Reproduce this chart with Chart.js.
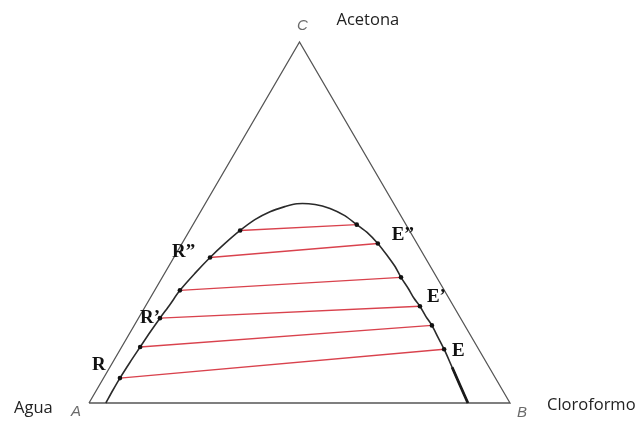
<!DOCTYPE html>
<html>
<head>
<meta charset="utf-8">
<script src="https://cdn.jsdelivr.net/npm/chart.js@4"></script>
<style>
  body { margin: 0; background: #fff; }
  canvas { display: block; }
</style>
</head>
<body>
<canvas id="ternario" width="640" height="421"></canvas>
<script>
// Curva binodal (% en masa): acetona y cloroformo, el resto es agua
const binodalAcetona = [0, 3.6, 6.9, 11.3, 15.5, 19.6, 23.5, 27.3, 31.2, 35.9, 40.3, 44.2, 47.8, 50.8, 53.0, 54.4, 55.2,
  55.0, 53.9, 51.9, 49.4, 47.0, 44.2, 40.6, 37.8, 34.8, 31.8, 29.0, 26.8, 24.0, 21.5, 18.2, 14.9, 9.9, 5.0, 0];
const binodalCloroformo = [4.0, 3.9, 3.9, 4.1, 4.4, 4.7, 5.1, 5.6, 6.0, 7.2, 8.6, 10.2, 12.0, 14.0, 16.5, 19.3, 21.8,
  26.2, 30.3, 34.8, 38.9, 42.8, 46.5, 50.7, 53.8, 56.7, 59.9, 62.7, 65.2, 68.0, 70.7, 73.8, 76.9, 81.3, 85.6, 90.0];

// Rectas de reparto: fase refinado (rica en agua) y fase extracto (rica en cloroformo)
const refinadoAcetona = [47.8, 40.3, 31.2, 23.5, 15.5, 6.9];
const refinadoCloroformo = [12.0, 8.6, 6.0, 5.1, 4.4, 3.9];
const extractoAcetona = [49.4, 44.2, 34.8, 26.8, 21.5, 14.9];
const extractoCloroformo = [38.9, 46.5, 56.7, 65.2, 70.7, 76.9];

// Vértices: A agua, B cloroformo, C acetona
const vertices = ["A", "B", "C"];
const componentes = ["Agua", "Cloroformo", "Acetona"];
const etiquetasRefinado = ["R\u201D", "R\u2019", "R"];
const etiquetasExtracto = ["E\u201D", "E\u2019", "E"];

const RAIZ3 = Math.sqrt(3) / 2;

// composición ternaria -> coordenadas del plano
function aXY(acetona, cloroformo) {
  return { x: (cloroformo + acetona / 2) / 100, y: (acetona / 100) * RAIZ3 };
}

const triangulo = [aXY(0, 0), aXY(0, 100), aXY(100, 0), aXY(0, 0)];
const binodal = binodalAcetona.map((a, i) => aXY(a, binodalCloroformo[i]));

const datasets = [];

datasets.push({
  data: triangulo,
  showLine: true,
  borderColor: "#555",
  borderWidth: 1.3,
  pointRadius: 0,
  clip: false,
  order: 4,
});

refinadoAcetona.forEach((a, i) => {
  datasets.push({
    data: [aXY(a, refinadoCloroformo[i]), aXY(extractoAcetona[i], extractoCloroformo[i])],
    showLine: true,
    borderColor: "#d9424d",
    borderWidth: 1.4,
    pointRadius: 0,
    order: 3,
  });
});

datasets.push({
  data: binodal,
  showLine: true,
  borderColor: "#2a2a2a",
  borderWidth: 1.6,
  tension: 0.3,
  pointRadius: 0,
  clip: false,
  order: 2,
});

// tramo inferior derecho más grueso
datasets.push({
  data: binodal.slice(33),
  showLine: true,
  borderColor: "#1a1a1a",
  borderWidth: 2.8,
  pointRadius: 0,
  clip: false,
  order: 1,
});

// puntos en los extremos de las rectas de reparto
const extremos = [];
refinadoAcetona.forEach((a, i) => {
  extremos.push(aXY(a, refinadoCloroformo[i]));
  extremos.push(aXY(extractoAcetona[i], extractoCloroformo[i]));
});
datasets.push({
  data: extremos,
  showLine: false,
  pointRadius: 2.3,
  pointBackgroundColor: "#111",
  pointBorderWidth: 0,
  order: 0,
});

const textos = {
  id: "textos",
  afterDraw(chart) {
    const ctx = chart.ctx;
    const sx = chart.scales.x, sy = chart.scales.y;
    const px = p => ({ x: sx.getPixelForValue(p.x), y: sy.getPixelForValue(p.y) });
    ctx.save();
    ctx.textBaseline = "middle";

    // letras de los vértices
    ctx.font = "italic 15px 'Liberation Sans'";
    ctx.fillStyle = "#6a6a6a";
    ctx.textAlign = "center";
    const pa = px(triangulo[0]), pb = px(triangulo[1]), pc = px(triangulo[2]);
    ctx.fillText(vertices[0], pa.x - 13, pa.y + 9);
    ctx.fillText(vertices[1], pb.x + 12, pb.y + 10);
    ctx.fillText(vertices[2], pc.x + 3, pc.y - 16);

    // nombres de los componentes
    ctx.font = "16.5px 'Open Sans'";
    ctx.fillStyle = "#222";
    ctx.textAlign = "left";
    ctx.fillText(componentes[0], 14, pa.y + 5);
    ctx.fillText(componentes[1], pb.x + 37, pb.y + 2);
    ctx.fillText(componentes[2], pc.x + 37, pc.y - 22);

    // etiquetas de refinado y extracto
    ctx.font = "bold 19px 'Liberation Serif'";
    ctx.fillStyle = "#111";
    const offR = [[-38, -5], [-20, 0], [-28, -13]];
    const offE = [[14, -8], [7, -9], [8, 2]];
    [1, 3, 5].forEach((k, j) => {
      const r = px(aXY(refinadoAcetona[k], refinadoCloroformo[k]));
      ctx.fillText(etiquetasRefinado[j], r.x + offR[j][0], r.y + offR[j][1]);
      const e = px(aXY(extractoAcetona[k], extractoCloroformo[k]));
      ctx.fillText(etiquetasExtracto[j], e.x + offE[j][0], e.y + offE[j][1]);
    });
    ctx.restore();
  },
};

new Chart(document.getElementById("ternario").getContext("2d"), {
  type: "scatter",
  data: { datasets: datasets },
  options: {
    responsive: false,
    animation: false,
    layout: { padding: { left: 89, right: 130, top: 42, bottom: 18 } },
    scales: {
      x: { type: "linear", min: 0, max: 1, display: false },
      y: { type: "linear", min: 0, max: RAIZ3, display: false },
    },
    plugins: {
      legend: { display: false },
      tooltip: { enabled: false },
    },
  },
  plugins: [textos],
});
</script>
</body>
</html>
